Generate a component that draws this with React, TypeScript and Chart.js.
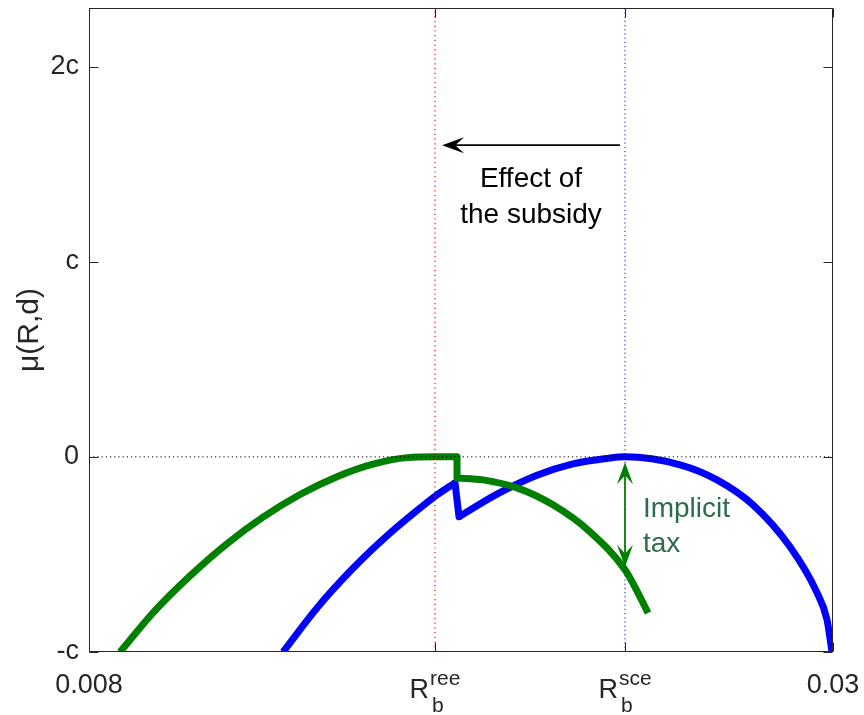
import React, { useEffect, useRef } from 'react';
import { Chart, registerables } from 'chart.js';

Chart.register(...registerables);

const FONT = '"Liberation Sans", Arial, Helvetica, sans-serif';
const AXIS_COLOR = '#262626';

const X_MIN = 0.008;
const X_MAX = 0.03;
const Y_MIN = -1;
const Y_MAX = 2.3;

const R_REE = 0.01823;
const R_SCE = 0.02385;

const X_TICK_VALUES = [0.008, R_REE, R_SCE, 0.03];
const X_TICK_MAIN = ['0.008', 'R', 'R', '0.03'];
const X_TICK_SUB = ['', 'b', 'b', ''];
const X_TICK_SUP = ['', 'ree', 'sce', ''];

const Y_TICK_VALUES = [-1, 0, 1, 2];
const Y_TICK_LABELS = ['-c', '0', 'c', '2c'];

// Green curve (with subsidy): left branch, then right branch after the drop
const greenLeftX = [0.008917, 0.009892, 0.010987, 0.012081, 0.013145, 0.014239, 0.015333, 0.016368, 0.017403, 0.018231, 0.018882];
const greenLeftY = [-1.0, -0.799, -0.61, -0.445, -0.309, -0.193, -0.102, -0.039, -0.004, 0, 0];
const greenRightX = [0.018882, 0.019651, 0.020656, 0.02172, 0.022815, 0.02385, 0.024293, 0.02453];
const greenRightY = [-0.108, -0.118, -0.159, -0.246, -0.384, -0.579, -0.717, -0.8];

// Blue curve (no subsidy): left branch up to the spike, right branch after the drop
const blueLeftX = [0.013737, 0.014742, 0.015807, 0.016901, 0.017995, 0.018291, 0.018823];
const blueLeftY = [-1.0, -0.774, -0.571, -0.391, -0.234, -0.195, -0.133];
const blueRightX = [0.018941, 0.020065, 0.021247, 0.022282, 0.023317, 0.02385, 0.025476, 0.02657, 0.027635, 0.028729, 0.029527, 0.029823, 0.02997];
const blueRightY = [-0.307, -0.191, -0.094, -0.037, -0.008, 0, -0.041, -0.118, -0.246, -0.461, -0.696, -0.835, -1.0];

// Annotations (data units)
const EFFECT_ARROW_FROM_X = 0.0237;
const EFFECT_ARROW_TO_X = 0.01844;
const EFFECT_ARROW_Y = 1.597;
const EFFECT_TEXT_X = 0.02107;
const EFFECT_TEXT_LINES = ['Effect of', 'the subsidy'];
const EFFECT_TEXT_Y = [1.382, 1.198];

const TAX_ARROW_X = R_SCE;
const TAX_ARROW_TOP = -0.028;
const TAX_ARROW_BOTTOM = -0.563;
const TAX_TEXT_X = 0.02438;
const TAX_TEXT_LINES = ['Implicit', 'tax'];
const TAX_TEXT_Y = [-0.307, -0.486];

const GREEN = '#008000';
const BLUE = '#0000ff';

function arrowHead(ctx: CanvasRenderingContext2D, tx: number, ty: number, dx: number, dy: number, color: string) {
  const L = 22;
  const W = 8;
  const px = -dy;
  const py = dx;
  ctx.beginPath();
  ctx.moveTo(tx, ty);
  ctx.lineTo(tx - dx * L + px * W, ty - dy * L + py * W);
  ctx.lineTo(tx - dx * L * 0.6, ty - dy * L * 0.6);
  ctx.lineTo(tx - dx * L - px * W, ty - dy * L - py * W);
  ctx.closePath();
  ctx.fillStyle = color;
  ctx.fill();
}

const overlayPlugin = {
  id: 'overlay',
  afterDatasetsDraw(chart: any) {
    const { ctx, scales } = chart;
    const x = scales.x;
    const y = scales.y;
    ctx.save();

    const ex1 = x.getPixelForValue(EFFECT_ARROW_FROM_X);
    const ex2 = x.getPixelForValue(EFFECT_ARROW_TO_X);
    const ey = y.getPixelForValue(EFFECT_ARROW_Y);
    ctx.strokeStyle = '#000';
    ctx.lineWidth = 1.8;
    ctx.beginPath();
    ctx.moveTo(ex1, ey);
    ctx.lineTo(ex2 + 22 * 0.6, ey);
    ctx.stroke();
    arrowHead(ctx, ex2, ey, -1, 0, '#000');

    ctx.fillStyle = '#000';
    ctx.font = `28px ${FONT}`;
    ctx.textAlign = 'center';
    ctx.textBaseline = 'alphabetic';
    EFFECT_TEXT_LINES.forEach((t, i) => {
      ctx.fillText(t, x.getPixelForValue(EFFECT_TEXT_X), y.getPixelForValue(EFFECT_TEXT_Y[i]));
    });

    const tx = x.getPixelForValue(TAX_ARROW_X);
    const ty1 = y.getPixelForValue(TAX_ARROW_TOP);
    const ty2 = y.getPixelForValue(TAX_ARROW_BOTTOM);
    ctx.strokeStyle = GREEN;
    ctx.lineWidth = 1.8;
    ctx.beginPath();
    ctx.moveTo(tx, ty1 + 22 * 0.6);
    ctx.lineTo(tx, ty2 - 22 * 0.6);
    ctx.stroke();
    arrowHead(ctx, tx, ty1, 0, -1, GREEN);
    arrowHead(ctx, tx, ty2, 0, 1, GREEN);

    ctx.fillStyle = '#2e6a4e';
    ctx.textAlign = 'left';
    TAX_TEXT_LINES.forEach((t, i) => {
      ctx.fillText(t, x.getPixelForValue(TAX_TEXT_X), y.getPixelForValue(TAX_TEXT_Y[i]));
    });

    ctx.restore();
  },
  afterDraw(chart: any) {
    const { ctx, chartArea: a, scales } = chart;
    const x = scales.x;
    const y = scales.y;
    ctx.save();
    ctx.strokeStyle = AXIS_COLOR;
    ctx.lineWidth = 1;
    const L = Math.round(a.left) + 0.5;
    const R = Math.round(a.right) - 0.5;
    const T = Math.round(a.top) + 0.5;
    const B = Math.round(a.bottom) - 0.5;
    ctx.strokeRect(L, T, R - L, B - T);

    const TL = 9;
    ctx.beginPath();
    Y_TICK_VALUES.forEach((v) => {
      const py = Math.round(y.getPixelForValue(v)) + 0.5;
      ctx.moveTo(L, py);
      ctx.lineTo(L + TL, py);
      ctx.moveTo(R, py);
      ctx.lineTo(R - TL, py);
    });
    X_TICK_VALUES.forEach((v) => {
      const px = Math.round(x.getPixelForValue(v)) + 0.5;
      ctx.moveTo(px, B);
      ctx.lineTo(px, B - TL);
      ctx.moveTo(px, T);
      ctx.lineTo(px, T + TL);
    });
    ctx.stroke();

    ctx.fillStyle = AXIS_COLOR;
    ctx.textBaseline = 'alphabetic';
    const mainFont = `27px ${FONT}`;
    const smallFont = `21px ${FONT}`;
    X_TICK_VALUES.forEach((v, i) => {
      const cx = x.getPixelForValue(v);
      if (!X_TICK_SUP[i] && !X_TICK_SUB[i]) {
        ctx.font = mainFont;
        ctx.textAlign = 'center';
        ctx.fillText(X_TICK_MAIN[i], cx, 693);
        return;
      }
      ctx.font = mainFont;
      const wMain = ctx.measureText(X_TICK_MAIN[i]).width;
      ctx.font = smallFont;
      const wSup = ctx.measureText(X_TICK_SUP[i]).width;
      const wSub = ctx.measureText(X_TICK_SUB[i]).width;
      const total = wMain + 1 + Math.max(wSup, wSub);
      const sx = cx - total / 2;
      ctx.textAlign = 'left';
      ctx.font = mainFont;
      ctx.fillText(X_TICK_MAIN[i], sx, 698);
      ctx.font = smallFont;
      ctx.fillText(X_TICK_SUP[i], sx + wMain + 1, 685);
      ctx.fillText(X_TICK_SUB[i], sx + wMain + 3, 712);
    });
    ctx.restore();
  },
};

export default function App() {
  const canvasRef = useRef<HTMLCanvasElement | null>(null);

  useEffect(() => {
    if (!canvasRef.current) return;
    const toPts = (xs: number[], ys: number[]) => xs.map((v, i) => ({ x: v, y: ys[i] }));
    const last = (a: number[]) => a[a.length - 1];

    const curve = (label: string, data: any[], color: string) => ({
      label,
      data,
      borderColor: color,
      borderWidth: 7,
      pointRadius: 0,
      cubicInterpolationMode: 'monotone',
      clip: 0,
      order: 1,
    });
    const connector = (label: string, data: any[], color: string) => ({
      label,
      data,
      borderColor: color,
      borderWidth: 7,
      borderCapStyle: 'round',
      borderJoinStyle: 'round',
      pointRadius: 0,
      tension: 0,
      clip: 0,
      order: 1,
    });

    const chart = new Chart(canvasRef.current, {
      type: 'line',
      data: {
        datasets: [
          {
            label: 'zero',
            data: [{ x: X_MIN, y: 0 }, { x: X_MAX, y: 0 }],
            borderColor: '#000',
            borderWidth: 1,
            borderDash: [1.2, 3],
            pointRadius: 0,
            order: 0,
          },
          {
            label: 'Rree',
            data: [{ x: R_REE, y: Y_MIN }, { x: R_REE, y: Y_MAX }],
            borderColor: '#ff0000',
            borderWidth: 1.2,
            borderDash: [1.2, 3.5],
            pointRadius: 0,
            order: 0,
          },
          {
            label: 'Rsce',
            data: [{ x: R_SCE, y: Y_MIN }, { x: R_SCE, y: Y_MAX }],
            borderColor: BLUE,
            borderWidth: 1,
            borderDash: [1.2, 3],
            pointRadius: 0,
            order: 0,
          },
          curve('greenLeft', toPts(greenLeftX, greenLeftY), GREEN),
          connector('greenDrop', [
            { x: last(greenLeftX), y: last(greenLeftY) },
            { x: greenRightX[0], y: greenRightY[0] },
          ], GREEN),
          curve('greenRight', toPts(greenRightX, greenRightY), GREEN),
          curve('blueLeft', toPts(blueLeftX, blueLeftY), BLUE),
          connector('blueDrop', [
            { x: last(blueLeftX), y: last(blueLeftY) },
            { x: blueRightX[0], y: blueRightY[0] },
          ], BLUE),
          curve('blueRight', toPts(blueRightX, blueRightY), BLUE),
        ],
      },
      options: {
        animation: false,
        responsive: false,
        devicePixelRatio: 1,
        parsing: false,
        layout: { padding: { left: 0, top: 8, right: 31, bottom: 63 } },
        plugins: {
          legend: { display: false },
          tooltip: { enabled: false },
        },
        scales: {
          x: {
            type: 'linear',
            display: false,
            min: X_MIN,
            max: X_MAX,
          },
          y: {
            type: 'linear',
            min: Y_MIN,
            max: Y_MAX,
            afterBuildTicks: (s: any) => {
              s.ticks = Y_TICK_VALUES.map((v) => ({ value: v }));
            },
            afterFit: (s: any) => {
              s.width = 89;
              s.paddingTop = 0;
              s.paddingBottom = 0;
            },
            grid: { display: false, drawTicks: false },
            border: { display: false },
            ticks: {
              padding: 10,
              color: AXIS_COLOR,
              font: { family: FONT, size: 27 },
              autoSkip: false,
              callback: (_v: any, i: number) => Y_TICK_LABELS[i],
            },
            title: {
              display: true,
              text: 'μ(R,d)',
              color: AXIS_COLOR,
              font: { family: FONT, size: 30 },
              padding: { top: 12, bottom: 0 },
            },
          },
        },
      },
      plugins: [overlayPlugin],
    } as any);

    return () => chart.destroy();
  }, []);

  return (
    <div style={{ position: 'absolute', left: 0, top: 0, width: 864, height: 715 }}>
      <canvas ref={canvasRef} width={864} height={715} />
    </div>
  );
}
